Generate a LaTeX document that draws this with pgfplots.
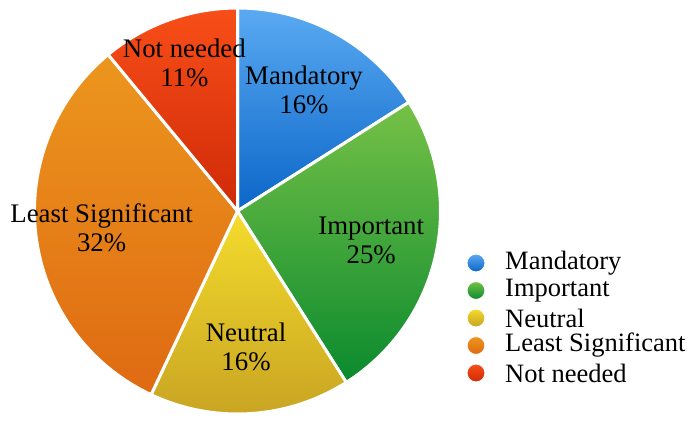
\documentclass[border=0pt]{standalone}
\usepackage{pgfplots}
\usepackage{pgfplotstable}
\pgfplotsset{compat=1.18}
\usepackage{fontspec}
\setmainfont{Liberation Serif}
\definecolor{mandT}{HTML}{5AAAF2}
\definecolor{mandB}{HTML}{0B66C8}
\definecolor{impT}{HTML}{76C147}
\definecolor{impB}{HTML}{0A8A2E}
\definecolor{neuT}{HTML}{F4DC2C}
\definecolor{neuB}{HTML}{C7A222}
\definecolor{lsT}{HTML}{EC961E}
\definecolor{lsB}{HTML}{DF6A12}
\definecolor{nnT}{HTML}{F84E18}
\definecolor{nnB}{HTML}{CF2A08}
\pgfplotstableread[col sep=comma]{
label,value,top,bottom,dist
Mandatory,16,mandT,mandB,138
Important,25,impT,impB,137
Neutral,16,neuT,neuB,136
Least Significant,32,lsT,lsB,137
Not needed,11,nnT,nnB,157
}\piedata
\begin{document}
\begin{tikzpicture}
\begin{axis}[
  scale only axis, width=688bp, height=416bp,
  xmin=0, xmax=688, ymin=0, ymax=416,
  hide axis, clip=false,
]
\path (axis cs:0,0) rectangle (axis cs:688,416);
\def\cx{237.5}\def\cy{205}\def\R{203}
\def\startang{90}
\pgfplotsforeachungrouped \i in {0,...,4}{%
  \pgfplotstablegetelem{\i}{value}\of\piedata \let\v=\pgfplotsretval
  \pgfplotstablegetelem{\i}{top}\of\piedata \let\ct=\pgfplotsretval
  \pgfplotstablegetelem{\i}{bottom}\of\piedata \let\cb=\pgfplotsretval
  \pgfplotstablegetelem{\i}{label}\of\piedata \let\lab=\pgfplotsretval
  \pgfplotstablegetelem{\i}{dist}\of\piedata \let\dd=\pgfplotsretval
  \pgfmathsetmacro\endang{\startang-3.6*\v}
  \pgfmathsetmacro\midang{(\startang+\endang)/2}
  \pgfmathsetmacro\lx{\cx+\dd*cos(\midang)}
  \pgfmathsetmacro\ly{\cy+\dd*sin(\midang)}
  \pgfmathsetmacro\legy{153-27.5*\i}
  \edef\temp{%
    \noexpand\path[draw=white, line width=3bp, line join=round, top color=\ct, bottom color=\cb]
      (axis cs:\cx,\cy) -- ++(\startang:\R bp) arc[start angle=\startang, end angle=\endang, radius=\R bp] -- cycle;
    \noexpand\node[align=center, font=\noexpand\fontsize{26.8bp}{29bp}\noexpand\selectfont, inner sep=0pt] at (axis cs:\lx,\ly) {\lab\noexpand\\\v\noexpand\%};
    \noexpand\path[draw=white, line width=1bp, top color=\ct, bottom color=\cb] (axis cs:476,\legy) circle[radius=9bp];
    \noexpand\node[anchor=west, font=\noexpand\fontsize{26.5bp}{29bp}\noexpand\selectfont, inner sep=0pt] at (axis cs:505,\legy) {\lab};
  }%
  \temp
  \global\let\startang=\endang
}
\end{axis}
\end{tikzpicture}
\end{document}
